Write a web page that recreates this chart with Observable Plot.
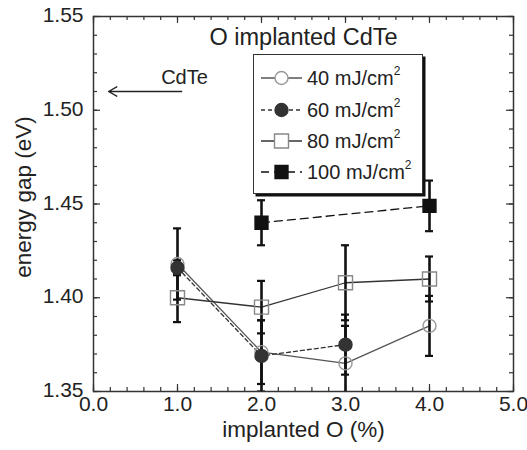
<!DOCTYPE html>
<html>
<head>
<meta charset="utf-8">
<script src="https://cdn.jsdelivr.net/npm/d3@7"></script>
<script src="https://cdn.jsdelivr.net/npm/@observablehq/plot@0.6"></script>
<style>
  body { margin: 0; background: #fff; font-family: "Liberation Sans", Arial, sans-serif; }
  #wrap { position: relative; width: 527px; height: 450px; }
  #legend {
    position: absolute; left: 253px; top: 54px; width: 168px; height: 138px;
    border: 1.5px solid #333; box-shadow: 2.5px 2.5px 0 #111; background: #fff;
  }
  .row { position: absolute; left: 0; height: 24px; display: flex; align-items: center; }
  .row svg { margin-left: 7px; }
  .row span { margin-left: 5px; font-size: 20px; color: #222; white-space: nowrap; }
  .row sup { font-size: 12px; position: relative; top: -2px; }
</style>
</head>
<body>
<div id="wrap"></div>
<script>
// Band gap of O-implanted CdTe versus implanted oxygen, for four laser fluences
const implantedO = [1, 2, 3, 4];
const doseLabels = ["40 mJ/cm", "60 mJ/cm", "80 mJ/cm", "100 mJ/cm"];
const gap40  = [1.418, 1.371, 1.365, 1.385];
const err40  = [0.019, 0.017, 0.020, 0.016];
const gap60  = [1.416, 1.369, 1.375, null];
const err60  = [0.004, 0.019, 0.016, null];
const gap80  = [1.400, 1.395, 1.408, 1.410];
const err80  = [0.013, 0.014, 0.020, 0.012];
const gap100 = [null, 1.440, null, 1.449];
const err100 = [null, 0.012, null, 0.0135];

// axis ticks
const xTicks = [0, 1, 2, 3, 4, 5];
const yTicks = [1.35, 1.40, 1.45, 1.50, 1.55];
const xMinor = d3.range(0, 5.001, 0.2);
const yMinor = d3.range(1.35, 1.5501, 0.01);

// bulk CdTe reference annotation
const bulkLabel = [{x: 1.083, y: 1.5175, text: "CdTe"}];
const bulkArrow = [{x1: 1.05, x2: 0.18, y: 1.51}];

const gaps = [gap40, gap60, gap80, gap100];
const errs = [err40, err60, err80, err100];

const look = [
  {line: "#555", dash: null,  symbol: "circle", fill: "none", stroke: "#999", r: 6.5},
  {line: "#333", dash: "4,3", symbol: "circle", fill: "#333", stroke: "#333", r: 6.5},
  {line: "#333", dash: null,  symbol: "square", fill: "none", stroke: "#888", r: 7.9},
  {line: "#111", dash: "8,5", symbol: "square", fill: "#111", stroke: "#111", r: 7.3}
];

const rows = [];
doseLabels.forEach((dose, s) => implantedO.forEach((o, i) => {
  if (gaps[s][i] != null) rows.push({s, dose, o, g: gaps[s][i], e: errs[s][i]});
}));
const caps = rows.flatMap(d => [{o: d.o, v: d.g - d.e}, {o: d.o, v: d.g + d.e}]);

const W = 527, H = 450, mL = 93, mR = 14, mT = 16, mB = 59;
const plotW = W - mL - mR, plotH = H - mT - mB;
const ink = "#333";
const major = 7, minor = 4;

const lineMarks = look.map((st, s) =>
  Plot.line(rows.filter(d => d.s === s), {x: "o", y: "g", stroke: st.line, strokeWidth: 1.3, strokeDasharray: st.dash})
);
const dotMarks = look.map((st, s) =>
  Plot.dot(rows.filter(d => d.s === s), {x: "o", y: "g", symbol: st.symbol, r: st.r, fill: st.fill, stroke: st.stroke, strokeWidth: 1.4})
);

const chart = Plot.plot({
  width: W, height: H,
  marginLeft: mL, marginRight: mR, marginTop: mT, marginBottom: mB,
  style: {fontFamily: "'Liberation Sans', Arial, sans-serif", fontSize: "21px", color: "#222", background: "#fff"},
  x: {domain: [0, 5]},
  y: {domain: [1.35, 1.55]},
  marks: [
    // inward ticks on all four sides
    Plot.tickX(xMinor, {x: d => d, stroke: ink, strokeWidth: 1.2, insetTop: plotH - minor}),
    Plot.tickX(xTicks, {x: d => d, stroke: ink, strokeWidth: 1.2, insetTop: plotH - major}),
    Plot.tickX(xMinor, {x: d => d, stroke: ink, strokeWidth: 1.2, insetBottom: plotH - minor}),
    Plot.tickX(xTicks, {x: d => d, stroke: ink, strokeWidth: 1.2, insetBottom: plotH - major}),
    Plot.tickY(yMinor, {y: d => d, stroke: ink, strokeWidth: 1.2, insetRight: plotW - minor}),
    Plot.tickY(yTicks, {y: d => d, stroke: ink, strokeWidth: 1.2, insetRight: plotW - major}),
    Plot.tickY(yMinor, {y: d => d, stroke: ink, strokeWidth: 1.2, insetLeft: plotW - minor}),
    Plot.tickY(yTicks, {y: d => d, stroke: ink, strokeWidth: 1.2, insetLeft: plotW - major}),
    Plot.axisX({ticks: xTicks, tickSize: 0, tickPadding: 5, tickFormat: d3.format(".1f"), label: null, fill: "#222"}),
    Plot.axisY({ticks: yTicks, tickSize: 0, tickPadding: 10, tickFormat: d3.format(".2f"), label: null, fill: "#222", dy: -1}),
    Plot.frame({stroke: ink, strokeWidth: 1.5}),
    // series
    ...lineMarks,
    Plot.ruleX(rows, {x: "o", y1: d => d.g - d.e, y2: d => d.g + d.e, stroke: "#111", strokeWidth: 2.6, clip: true}),
    Plot.ruleY(caps, {y: "v", x1: "o", x2: "o", insetLeft: -4, insetRight: -4, stroke: "#111", strokeWidth: 2.2, clip: true}),
    ...dotMarks,
    // annotations
    Plot.arrow(bulkArrow, {x1: "x1", x2: "x2", y1: "y", y2: "y", stroke: "#222", strokeWidth: 1.4, headLength: 10}),
    Plot.text(bulkLabel, {x: "x", y: "y", text: "text", fontSize: 20, fill: "#222"}),
    Plot.text(["O implanted CdTe"], {frameAnchor: "top", lineAnchor: "top", textAnchor: "middle", dy: 12, fontSize: 23.5, fill: "#222"}),
    Plot.text(["implanted O (%)"], {frameAnchor: "bottom", lineAnchor: "bottom", textAnchor: "middle", dy: 45, fontSize: 22.5, fill: "#222"}),
    Plot.text(["energy gap (eV)"], {frameAnchor: "left", textAnchor: "middle", lineAnchor: "middle", dx: -70, dy: -7, rotate: -90, fontSize: 22.5, fill: "#222"})
  ]
});

const wrap = document.getElementById("wrap");
wrap.appendChild(chart);

// legend box inside the plot area
const legend = d3.select(wrap).append("div").attr("id", "legend");
const rowTops = [11, 43, 74, 105];
doseLabels.forEach((label, s) => {
  const st = look[s];
  const row = legend.append("div").attr("class", "row").style("top", rowTops[s] + "px");
  const svg = row.append("svg").attr("width", 41).attr("height", 24);
  svg.append("line").attr("x1", 0).attr("x2", 41).attr("y1", 12).attr("y2", 12)
    .attr("stroke", st.line).attr("stroke-width", 1.3).attr("stroke-dasharray", st.dash);
  const sym = d3.symbol(st.symbol === "square" ? d3.symbolSquare : d3.symbolCircle, st.r * st.r * Math.PI);
  svg.append("path").attr("d", sym()).attr("transform", "translate(20.5,12)")
    .attr("fill", st.fill === "none" ? "#fff" : st.fill).attr("stroke", st.stroke).attr("stroke-width", 1.4);
  const span = row.append("span").text(label);
  span.append("sup").text("2");
});
</script>
</body>
</html>
